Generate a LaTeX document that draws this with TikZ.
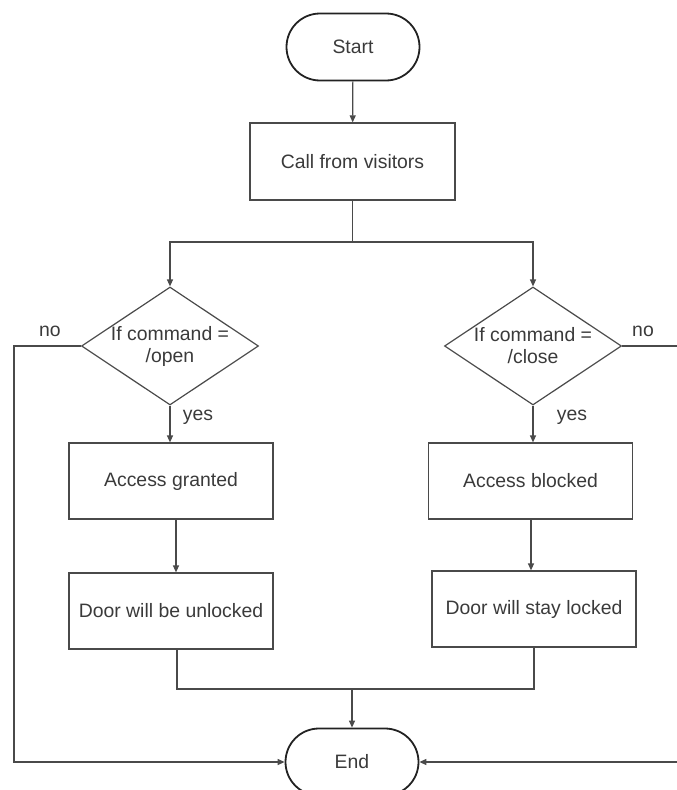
\documentclass[tikz,border=0pt]{standalone}
\usepackage{fontspec}
\setmainfont{Liberation Sans}
\usetikzlibrary{shapes.misc,shapes.geometric,arrows.meta}
\definecolor{txt}{HTML}{3A3A3A}
\definecolor{ln}{HTML}{4A4A4A}
\definecolor{term}{HTML}{222222}
\begin{document}
\begin{tikzpicture}[x=1pt,y=-1pt,
  every node/.style={font=\fontsize{19.4}{22}\selectfont, text=txt},
  termbox/.style={rounded rectangle, draw=term, line width=1.8pt, minimum width=133pt, minimum height=67pt, inner sep=0pt},
  procbox/.style={rectangle, draw=ln, line width=1.2pt, minimum width=204pt, minimum height=76pt, inner sep=0pt},
  decbox/.style={diamond, draw=ln, line width=1.2pt, minimum width=177pt, minimum height=118pt, inner sep=0pt, shape aspect=1.5},
  conn/.style={draw=ln, line width=1.2pt},
  arr/.style={conn, -{Triangle[length=7pt,width=6pt]}},
  lbl/.style={inner sep=0pt}
]
\useasboundingbox (0,0) rectangle (677,790);
\clip (0,0) rectangle (677,790);

\node[termbox] (start) at (353,47) {Start};
\node[procbox, minimum width=205pt, minimum height=77pt] (call) at (352.5,161.5) {Call from visitors};
\node[decbox, label={[align=center, text=txt, font=\fontsize{19.4}{22}\selectfont]center:If command =\\/open}] (d1) at (170,346) {};
\node[decbox, label={[align=center, text=txt, font=\fontsize{19.4}{22}\selectfont]center:If command =\\/close}] (d2) at (533,346) {};
\node[procbox] (ag) at (171,481) {Access granted};
\node[procbox] (ab) at (530.5,481) {Access blocked};
\node[procbox] (du) at (171,611) {Door will be unlocked};
\node[procbox] (ds) at (534,609) {Door will stay locked};
\node[termbox] (end) at (352,762) {End};

\coordinate (j1) at (352.5,242);
\coordinate (j2) at (352,689);
\coordinate (l1) at (14,346);
\coordinate (r1) at (681,346);
\coordinate (ax1) at (176,0);
\coordinate (ax2) at (531,0);
\coordinate (jx1) at (177,0);
\coordinate (jx2) at (534,0);

\draw[arr] (start) -- (call);
\draw[conn] (call.south) -- (j1);
\draw[arr] (j1) -| (d1.north);
\draw[arr] (j1) -| (d2.north);
\draw[arr] (d1.south) -- (d1.south |- ag.north);
\draw[arr] (d2.south) -- (d2.south |- ab.north);
\draw[arr] (ax1 |- ag.south) -- (ax1 |- du.north);
\draw[arr] (ax2 |- ab.south) -- (ax2 |- ds.north);
\draw[conn] (jx1 |- du.south) -- (jx1 |- j2) -- (jx2 |- j2) -- (jx2 |- ds.south);
\draw[arr] (j2) -- (end.north);
\draw[arr] (d1.west) -- (l1) |- (end.west);
\draw[arr] (d2.east) -- (r1) |- (end.east);

\node[lbl] (no1) at (50,331) {no};
\node[lbl] (no2) at (643,331) {no};
\node[lbl] (yes1) at (198,417) {yes};
\node[lbl] (yes2) at (572,417) {yes};
\end{tikzpicture}
\end{document}
